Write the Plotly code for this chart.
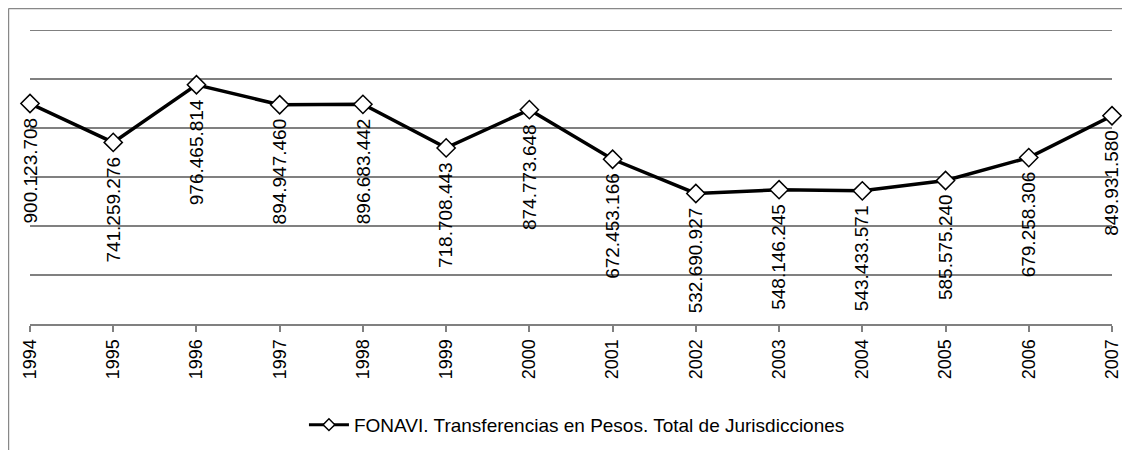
import plotly.graph_objects as go

years = [1994, 1995, 1996, 1997, 1998, 1999, 2000, 2001, 2002, 2003, 2004, 2005, 2006, 2007]
values = [900123708, 741259276, 976465814, 894947460, 896683442, 718708443, 874773648,
          672453166, 532690927, 548146245, 543433571, 585575240, 679258306, 849931580]
labels = ["900.123.708", "741.259.276", "976.465.814", "894.947.460", "896.683.442",
          "718.708.443", "874.773.648", "672.453.166", "532.690.927", "548.146.245",
          "543.433.571", "585.575.240", "679.258.306", "849.931.580"]
series_name = "FONAVI. Transferencias en Pesos. Total de Jurisdicciones"
y_max = 1.2e9

FONT = "Liberation Sans, Arial, sans-serif"

fig = go.Figure()
fig.add_trace(go.Scatter(
    x=years, y=values, mode="lines+markers", name=series_name, showlegend=False,
    line=dict(color="black", width=3.5),
    marker=dict(symbol="diamond", size=14, color="white", line=dict(color="black", width=1.5)),
    cliponaxis=False,
))
# legend entry with the smaller legend symbol
fig.add_trace(go.Scatter(
    x=[None], y=[None], mode="lines+markers", name=series_name, showlegend=True,
    line=dict(color="black", width=3),
    marker=dict(symbol="diamond", size=9, color="white", line=dict(color="black", width=1.5)),
))

annotations = []
for xv, yv, t in zip(years, values, labels):
    annotations.append(dict(
        x=xv, y=yv, xref="x", yref="y", text=t, showarrow=False,
        textangle=-90, xanchor="center", yanchor="top", yshift=-12,
        font=dict(family=FONT, size=19, color="black"),
    ))

shapes = [
    # top gridline (plotly hides gridlines on the plot edge)
    dict(type="line", xref="paper", yref="y", x0=0, x1=1, y0=y_max, y1=y_max,
         line=dict(color="#808080", width=2), layer="below"),
    # outer frame
    dict(type="line", xref="paper", yref="paper", x0=-0.0199, x1=1.03, y0=1.0731, y1=1.0731,
         line=dict(color="#888888", width=1.5)),
    dict(type="line", xref="paper", yref="paper", x0=-0.0199, x1=-0.0199, y0=1.0731, y1=-0.45,
         line=dict(color="#888888", width=1.5)),
]

fig.update_layout(
    width=1122, height=442,
    margin=dict(l=22, r=18, t=22, b=126, autoexpand=False),
    paper_bgcolor="white", plot_bgcolor="white",
    font=dict(family=FONT, size=19, color="black"),
    showlegend=True,
    legend=dict(orientation="h", x=0.5055, xanchor="center", y=-0.343, yanchor="middle",
                font=dict(family=FONT, size=19, color="black"), itemwidth=40),
    annotations=annotations,
    shapes=shapes,
)
fig.update_xaxes(
    range=[1994, 2007], tickvals=years, ticktext=[str(y) for y in years],
    tickangle=-90, showgrid=False, showline=True, linecolor="#808080", linewidth=2,
    ticks="outside", ticklen=6, tickcolor="#808080", tickwidth=2, zeroline=False,
    automargin=False, tickfont=dict(family=FONT, size=18, color="black"),
)
fig.update_yaxes(
    range=[0, y_max], tick0=0, dtick=2e8, showgrid=True, gridcolor="#808080", gridwidth=2,
    showticklabels=False, zeroline=False, showline=False, automargin=False,
)

fig.write_html("out.html")
